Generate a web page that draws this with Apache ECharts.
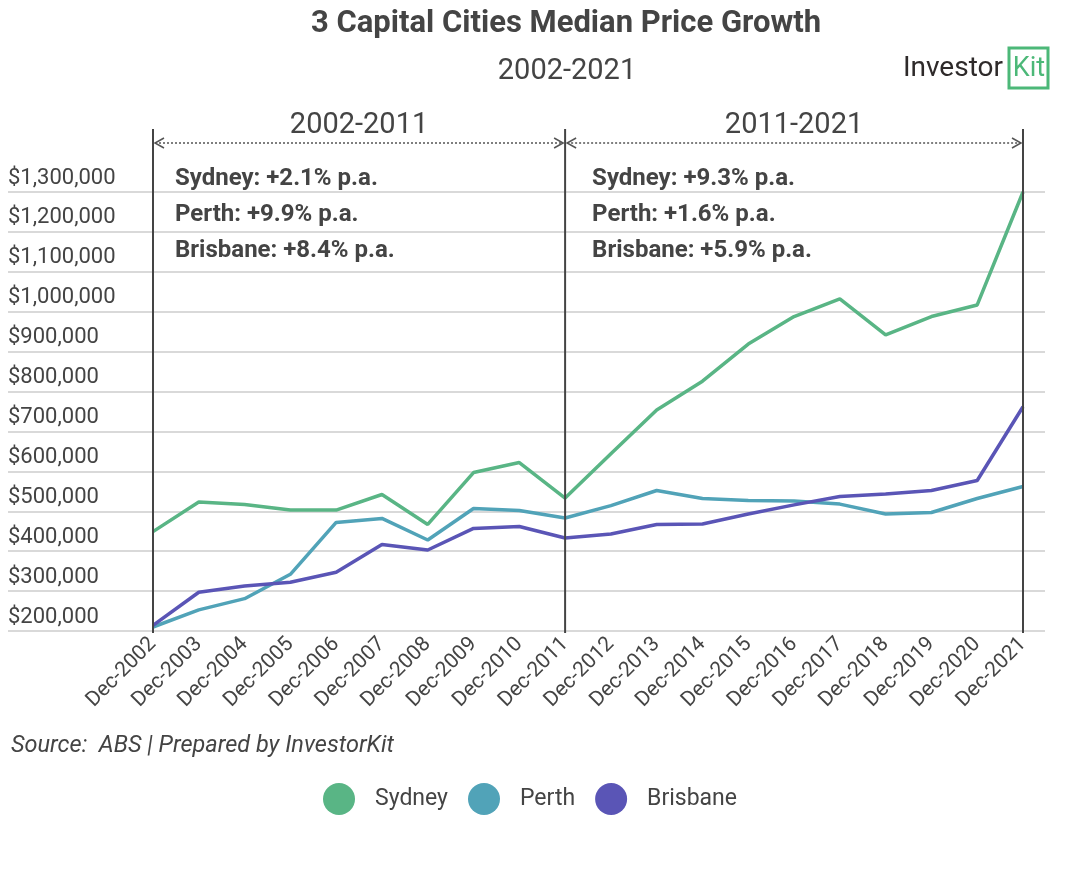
<!DOCTYPE html>
<html>
<head>
<meta charset="utf-8">
<script src="https://cdn.jsdelivr.net/npm/echarts@6/dist/echarts.min.js"></script>
<style>
  html, body { margin: 0; padding: 0; background: #fff; }
  #main { width: 1072px; height: 880px; }
</style>
</head>
<body>
<div id="main"></div>
<script>
// median prices
var years = ['Dec-2002', 'Dec-2003', 'Dec-2004', 'Dec-2005', 'Dec-2006', 'Dec-2007', 'Dec-2008',
    'Dec-2009', 'Dec-2010', 'Dec-2011', 'Dec-2012', 'Dec-2013', 'Dec-2014', 'Dec-2015',
    'Dec-2016', 'Dec-2017', 'Dec-2018', 'Dec-2019', 'Dec-2020', 'Dec-2021'];
var sydney = [449000, 523000, 517000, 503000, 503000, 542000, 467000, 597000, 622000, 533000,
    644000, 754000, 826000, 919000, 988000, 1032000, 942000, 988000, 1017000, 1300000];
var perth = [210000, 253000, 281000, 342000, 472000, 482000, 428000, 507000, 502000, 483000,
    514000, 552000, 532000, 527000, 526000, 518000, 493000, 497000, 532000, 562000];
var brisbane = [214000, 297000, 313000, 322000, 347000, 417000, 403000, 457000, 462000, 433000,
    443000, 467000, 468000, 493000, 516000, 537000, 543000, 552000, 577000, 762000];

var periods = [
    { from: 'Dec-2002', to: 'Dec-2011', label: '2002-2011', indent: 22, lines: ['Sydney: +2.1% p.a.', 'Perth: +9.9% p.a.', 'Brisbane: +8.4% p.a.'] },
    { from: 'Dec-2011', to: 'Dec-2021', label: '2011-2021', indent: 27, lines: ['Sydney: +9.3% p.a.', 'Perth: +1.6% p.a.', 'Brisbane: +5.9% p.a.'] }
];

var colors = ['#59b585', '#51a3b8', '#5a55b6'];
var textColor = '#444';
var font = 'Roboto';

var chart = echarts.init(document.getElementById('main'));

var option = {
    animation: false,
    color: colors,
    textStyle: { fontFamily: font },
    title: [
        {
            text: '3 Capital Cities Median Price Growth',
            left: 561,
            textAlign: 'center',
            top: 4,
            textStyle: { fontSize: 31, fontWeight: 'bold', color: textColor, fontFamily: font }
        },
        {
            text: '2002-2021',
            left: 562,
            textAlign: 'center',
            top: 52,
            textStyle: { fontSize: 29, fontWeight: 'normal', color: textColor, fontFamily: font }
        }
    ],
    legend: {
        data: ['Sydney', 'Perth', 'Brisbane'],
        left: 318,
        top: 778,
        icon: 'circle',
        itemWidth: 32,
        itemHeight: 32,
        itemGap: 20,
        textStyle: { fontSize: 23, color: textColor, fontFamily: font, padding: [0, 0, 0, 15] }
    },
    grid: [
        { left: 8, right: 27, top: 192, bottom: 249 },
        { left: 153, right: 49, top: 192, bottom: 249 }
    ],
    xAxis: [
        { type: 'value', gridIndex: 0, show: false, min: 0, max: 1 },
        {
            type: 'category',
            gridIndex: 1,
            data: years,
            boundaryGap: false,
            axisLine: { show: false },
            axisTick: { show: false },
            axisLabel: { rotate: 45, fontSize: 21, color: textColor, margin: 10, interval: 0 }
        }
    ],
    yAxis: [
        {
            type: 'value',
            gridIndex: 0,
            min: 200000,
            max: 1300000,
            interval: 100000,
            axisLine: { show: false },
            axisTick: { show: false },
            splitLine: { lineStyle: { color: '#d9d9d9', width: 2 } },
            axisLabel: {
                inside: true,
                margin: 0,
                align: 'left',
                verticalAlign: 'bottom',
                padding: [0, 0, 3, 0],
                fontSize: 22,
                color: textColor,
                formatter: function (v) {
                    return '$' + v.toLocaleString('en-US');
                }
            }
        },
        { type: 'value', gridIndex: 1, min: 200000, max: 1300000, show: false }
    ],
    series: [
        { name: 'Sydney', type: 'line', xAxisIndex: 1, yAxisIndex: 1, data: sydney, symbol: 'none', lineStyle: { width: 3.5 } },
        { name: 'Perth', type: 'line', xAxisIndex: 1, yAxisIndex: 1, data: perth, symbol: 'none', lineStyle: { width: 3.5 } },
        { name: 'Brisbane', type: 'line', xAxisIndex: 1, yAxisIndex: 1, data: brisbane, symbol: 'none', lineStyle: { width: 3.5 } }
    ]
};

chart.setOption(option);

// period markers, placed with the category axis
function px(cat) {
    return chart.convertToPixel({ xAxisIndex: 1 }, cat);
}
var yBottom = chart.convertToPixel({ yAxisIndex: 1 }, 200000);
var lineTop = 129;
var arrowY = 143;
var elements = [];

var marks = ['Dec-2002', 'Dec-2011', 'Dec-2021'];
marks.forEach(function (m) {
    var x = px(m);
    elements.push({
        type: 'line',
        shape: { x1: x, y1: lineTop, x2: x, y2: yBottom + 2 },
        style: { stroke: '#444', lineWidth: 2 },
        z: 10
    });
});

periods.forEach(function (p) {
    var x1 = px(p.from) + 2;
    var x2 = px(p.to) - 2;
    elements.push({
        type: 'line',
        shape: { x1: x1, y1: arrowY, x2: x2, y2: arrowY },
        style: { stroke: '#555', lineWidth: 1.5, lineDash: [2, 2] }
    });
    elements.push({
        type: 'polyline',
        shape: { points: [[x1 + 9, arrowY - 5], [x1, arrowY], [x1 + 9, arrowY + 5]] },
        style: { stroke: '#555', lineWidth: 1.5, fill: null }
    });
    elements.push({
        type: 'polyline',
        shape: { points: [[x2 - 9, arrowY - 5], [x2, arrowY], [x2 - 9, arrowY + 5]] },
        style: { stroke: '#555', lineWidth: 1.5, fill: null }
    });
    elements.push({
        type: 'text',
        x: (x1 + x2) / 2,
        y: 126,
        style: { text: p.label, font: '29px ' + font, fill: textColor, align: 'center', verticalAlign: 'middle' }
    });
    p.lines.forEach(function (t, i) {
        elements.push({
            type: 'text',
            x: px(p.from) + p.indent,
            y: 179 + i * 36,
            style: { text: t, font: 'bold 24px ' + font, fill: textColor, align: 'left', verticalAlign: 'middle' }
        });
    });
});

// source note
elements.push({
    type: 'text',
    x: 11,
    y: 746,
    style: { text: 'Source:  ABS | Prepared by InvestorKit', font: 'italic 23.5px ' + font, fill: textColor, verticalAlign: 'middle' }
});

// logo
elements.push({
    type: 'text',
    x: 1003,
    y: 69,
    style: { text: 'Investor', font: '28px ' + font, fill: '#2e2a2a', align: 'right', verticalAlign: 'middle' }
});
elements.push({
    type: 'rect',
    shape: { x: 1009, y: 48, width: 39, height: 40 },
    style: { stroke: '#4cb878', lineWidth: 3, fill: null }
});
elements.push({
    type: 'text',
    x: 1029,
    y: 69,
    style: { text: 'Kit', font: '27px ' + font, fill: '#4cb878', align: 'center', verticalAlign: 'middle' }
});

chart.setOption({ graphic: { elements: elements } });
</script>
</body>
</html>
